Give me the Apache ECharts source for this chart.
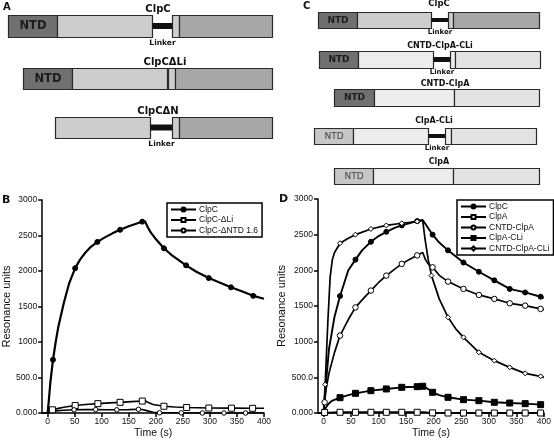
<!DOCTYPE html>
<html><head><meta charset="utf-8">
<script src="https://cdn.jsdelivr.net/npm/echarts@6/dist/echarts.min.js"></script>
<style>html,body{margin:0;padding:0;background:#fff}#c{width:554px;height:441px}</style>
</head><body><div id="c"></div>
<script>
// ---------- Domain maps (arbitrary length units, 0-1000) ----------
const A_NAMES = ['ClpC', 'ClpCΔLi', 'ClpCΔN'];
const A_ClpC   = [[0,186,'NTD_C'],[186,545,'D1_C'],[545,621,'LI'],[621,648,'M_C'],[648,1000,'D2_C']];
const A_ClpCdLi= [[57,242,'NTD_C'],[242,602,'D1_C'],[605,633,'M_C'],[633,1000,'D2_C']];
const A_ClpCdN = [[178,538,'D1_C'],[538,621,'LI'],[621,648,'M_C'],[648,1000,'D2_C']];

const C_NAMES = ['ClpC', 'CNTD-ClpA-CLi', 'CNTD-ClpA', 'ClpA-CLi', 'ClpA'];
const C_ClpC      = [[18,190,'NTD_C'],[190,518,'D1_C'],[518,593,'LI'],[593,615,'M_C'],[615,996,'D2_C']];
const C_CNTDClpACLi=[[22,195,'NTD_C'],[195,527,'D1_A'],[527,602,'LI'],[602,624,'M_A'],[624,1000,'D2_A']];
const C_CNTDClpA  = [[88,265,'NTD_C'],[265,619,'D1_A'],[619,996,'D2_A']];
const C_ClpACLi   = [[0,173,'NTD_A'],[173,504,'D1_A'],[504,580,'LI'],[580,606,'M_A'],[606,982,'D2_A']];
const C_ClpA      = [[88,261,'NTD_A'],[261,615,'D1_A'],[615,996,'D2_A']];

// ---------- SPR sensorgrams ----------
const X_TICKS = [0,50,100,150,200,250,300,350,400];
const Y_TICKS = [0,500,1000,1500,2000,2500,3000];
const Y_TICK_LABELS = ['0.000','500.0','1000','1500','2000','2500','3000'];

// Panel B
const B_ClpC_t = [-10,0,2,5,10,15,20,30,40,51,60,70,80,92,105,120,134,150,165,175,180,185,190,200,215,230,256,275,298,320,339,360,380,400];
const B_ClpC_v = [0,0,150,420,750,1000,1220,1550,1830,2040,2160,2260,2340,2410,2470,2530,2580,2630,2670,2695,2700,2620,2550,2450,2320,2220,2080,1990,1900,1830,1770,1710,1650,1610];
const B_ClpC_m = [10,51,92,134,175,215,256,298,339,380];

const B_dLi_t = [-10,0,3,9,20,30,51,70,93,115,134,155,175,180,185,195,215,235,257,298,340,379,400];
const B_dLi_v = [0,0,20,45,65,80,105,120,132,142,150,160,168,178,150,120,95,85,78,70,68,66,66];
const B_dLi_m = [9,51,93,134,175,215,257,298,340,379];

const B_dNTD_t = [-10,0,5,15,30,49,70,89,110,128,150,168,175,185,195,207,247,286,326,366,400];
const B_dNTD_v = [0,0,15,30,38,45,47,48,46,45,48,52,50,30,10,3,2,0,0,0,0];
const B_dNTD_m = [49,89,128,168,207,247,286,326,366];

// Panel D
const D_ClpC_t = [-10,0,3,10,20,30,45,58,70,86,100,114,130,142,160,170,180,185,198,210,226,254,282,310,338,366,394,400];
const D_ClpC_v = [0,0,300,900,1350,1640,2000,2150,2280,2400,2480,2540,2600,2630,2670,2690,2705,2650,2500,2390,2280,2110,1980,1860,1740,1690,1630,1615];
const D_ClpC_m = [30,58,86,114,142,170,198,226,254,282,310,338,366,394];

const D_ClpA_t = [-10,0,2,30,58,86,114,142,170,180,198,226,254,282,310,338,366,394,400];
const D_ClpA_v = [0,0,8,10,10,10,10,10,10,10,2,0,0,0,0,0,0,0,0];
const D_ClpA_m = [2,30,58,86,114,142,170,198,226,254,282,310,338,366,394];

const D_CNTDClpA_t = [-10,0,2,5,10,20,30,45,58,73,86,100,114,128,142,155,170,180,185,190,198,210,226,240,254,282,310,338,366,394,400];
const D_CNTDClpA_v = [0,0,150,350,560,850,1085,1310,1480,1610,1716,1830,1926,2010,2090,2150,2210,2250,2150,2090,2043,1930,1842,1790,1739,1655,1599,1538,1505,1459,1450];
const D_CNTDClpA_m = [2,30,58,86,114,142,170,198,226,254,282,310,338,366,394];

const D_ClpACLi_t = [-10,0,3,8,15,30,45,58,86,114,142,170,180,185,198,210,226,254,282,310,338,366,394,400];
const D_ClpACLi_v = [0,0,60,120,170,215,250,276,313,337,360,369,375,360,290,250,220,187,173,150,140,131,117,115];
const D_ClpACLi_m = [30,58,86,114,142,170,180,198,226,254,282,310,338,366,394];

const D_CNTDClpACLi_t = [-10,0,3,8,12,16,20,30,45,58,86,114,142,170,180,184,190,196,210,226,240,254,282,310,338,366,394,400];
const D_CNTDClpACLi_v = [0,0,400,1300,1900,2150,2250,2380,2450,2500,2580,2630,2660,2685,2700,2450,2150,1926,1600,1342,1180,1061,851,734,640,556,514,500];
const D_CNTDClpACLi_m = [3,30,58,86,114,142,170,196,226,254,282,310,338,366,394];

// ---------- styling / layout ----------
const FILL = {NTD_C:'#707070', NTD_A:'#c6c6c6', D1_C:'#cdcdcd', M_C:'#cdcdcd', D2_C:'#a7a7a7',
              D1_A:'#ededed', M_A:'#ededed', D2_A:'#e3e3e3'};
const FONT = 'DejaVu Sans';
const PF = 'Liberation Sans';

const diagramRows = [
  {segs:A_ClpC,    left:8,   right:282, top:15,  h:22, ntdSize:11.5},
  {segs:A_ClpCdLi, left:8,   right:282, top:68,  h:21, ntdSize:11.5},
  {segs:A_ClpCdN,  left:8,   right:282, top:117, h:21, ntdSize:11.5},
  {segs:C_ClpC,       left:314, right:14, top:12,  h:16, ntdSize:9},
  {segs:C_CNTDClpACLi,left:314, right:14, top:51,  h:17, ntdSize:9},
  {segs:C_CNTDClpA,   left:314, right:14, top:89,  h:17, ntdSize:9},
  {segs:C_ClpACLi,    left:314, right:14, top:128, h:16, ntdSize:9},
  {segs:C_ClpA,       left:314, right:14, top:168, h:16, ntdSize:9}
];

const grids = [], xAxes = [], yAxes = [], series = [];
diagramRows.forEach((row, gi) => {
  grids.push({left:row.left, right:row.right, top:row.top, height:row.h, containLabel:false});
  xAxes.push({gridIndex:gi, type:'value', min:0, max:1000, show:false});
  yAxes.push({gridIndex:gi, type:'category', data:['r'], show:false});
  const isA = gi < 3;
  series.push({
    type:'custom', xAxisIndex:gi, yAxisIndex:gi, clip:false, silent:true,
    data: row.segs.map(s => [s[0], s[1]]),
    encode:{x:[0,1]},
    renderItem: (params, api) => {
      const kind = row.segs[params.dataIndex][2];
      const p0 = api.coord([api.value(0), 0]);
      const p1 = api.coord([api.value(1), 0]);
      const h = api.size([0, 1])[1];
      const x0 = Math.round(p0[0]) + 0.5, x1 = Math.round(p1[0]) + 0.5;
      const yc = p0[1];
      if (kind === 'LI') {
        const lh = Math.max(4, Math.round(h * 0.28));
        return {type:'group', children:[
          {type:'rect', shape:{x:x0, y:yc - lh/2, width:x1-x0, height:lh}, style:{fill:'#111'}},
          {type:'text', style:{text:'Linker', x:(x0+x1)/2, y:yc + h/2 + (isA?2:1), align:'center', verticalAlign:'top',
            font:'bold ' + (isA?7.5:7) + 'px "' + FONT + '"', fill:'#111'}}
        ]};
      }
      const children = [
        {type:'rect', shape:{x:x0, y:Math.round(yc - h/2) + 0.5, width:x1-x0, height:Math.round(h)},
         style:{fill:FILL[kind], stroke:'#2a2a2a', lineWidth:1.2}}
      ];
      if (kind === 'NTD_C' || kind === 'NTD_A') {
        children.push({type:'text', style:{text:'NTD', x:(x0+x1)/2, y:yc + 0.5, align:'center', verticalAlign:'middle',
          font:(kind==='NTD_C'?'bold ':'') + row.ntdSize + 'px "' + FONT + '"', fill: kind==='NTD_C' ? '#1c1c1c' : '#444'}});
      }
      return {type:'group', children};
    }
  });
});

// chart grids
const GB = grids.length;       // panel B grid index
grids.push({left:39, right:290, top:200, bottom:28});
const GD = grids.length;       // panel D grid index
grids.push({left:318, right:6, top:199, bottom:28});

function xAxisFor(gi) {
  return {gridIndex:gi, type:'value', min:-10, max:400,
    axisLine:{show:true, onZero:false, lineStyle:{color:'#000', width:1.5}},
    axisTick:{show:true, length:4, customValues:X_TICKS, lineStyle:{color:'#000', width:1.5}},
    axisLabel:{customValues:X_TICKS, color:'#111', fontSize:8.5, fontFamily:PF, margin:4},
    splitLine:{show:false},
    name:'Time (s)', nameLocation:'middle', nameGap:15,
    nameTextStyle:{color:'#111', fontSize:10.5, fontFamily:PF}};
}
function yAxisFor(gi) {
  return {gridIndex:gi, type:'value', min:0, max:3000, interval:500,
    axisLine:{show:true, onZero:false, lineStyle:{color:'#000', width:1.5}},
    axisTick:{show:true, length:4, lineStyle:{color:'#000', width:1.5}},
    axisLabel:{color:'#111', fontSize:8.5, fontFamily:PF, margin:5,
      formatter: v => Y_TICK_LABELS[Y_TICKS.indexOf(v)]},
    splitLine:{show:false},
    name:'Resonance units', nameLocation:'middle', nameGap:16,
    nameTextStyle:{color:'#111', fontSize:11, fontFamily:PF}};
}
xAxes.push(xAxisFor(GB)); yAxes.push(yAxisFor(GB));
xAxes.push(xAxisFor(GD)); yAxes.push(yAxisFor(GD));
const XB = xAxes.length - 2, XD = xAxes.length - 1;

const SYM = {
  filledCircle:{symbol:'circle', size:5, fill:'#000'},
  openSquare:{symbol:'rect', size:6, fill:'#fff'},
  openCircle:{symbol:'circle', size:5.5, fill:'#fff'},
  smallOpenCircle:{symbol:'circle', size:4.5, fill:'#fff'},
  filledSquare:{symbol:'rect', size:6, fill:'#000'},
  smallDiamond:{symbol:'diamond', size:5, fill:'#fff'}
};
function lineSeries(name, ts, vs, marks, sym, ax, width) {
  return {
    name, type:'line', xAxisIndex:ax, yAxisIndex:ax, smooth:false,
    showSymbol:true, showAllSymbol:true, symbol:sym.symbol, symbolSize:sym.size,
    color:'#000',
    lineStyle:{color:'#000', width:width},
    itemStyle:{color:sym.fill, borderColor:'#000', borderWidth:1},
    z: 3,
    data: ts.map((t, i) => marks.includes(t) ? [t, vs[i]] : {value:[t, vs[i]], symbol:'none'})
  };
}
series.push(lineSeries('ClpC', B_ClpC_t, B_ClpC_v, B_ClpC_m, SYM.filledCircle, XB, 2.2));
series.push(lineSeries('ClpC-ΔLi', B_dLi_t, B_dLi_v, B_dLi_m, SYM.openSquare, XB, 1.6));
series.push(lineSeries('ClpC-ΔNTD 1.6', B_dNTD_t, B_dNTD_v, B_dNTD_m, SYM.smallOpenCircle, XB, 1.6));

series.push(lineSeries('ClpC', D_ClpC_t, D_ClpC_v, D_ClpC_m, SYM.filledCircle, XD, 1.9));
series.push(lineSeries('ClpA', D_ClpA_t, D_ClpA_v, D_ClpA_m, SYM.openSquare, XD, 1.9));
series.push(lineSeries('CNTD-ClpA', D_CNTDClpA_t, D_CNTDClpA_v, D_CNTDClpA_m, SYM.openCircle, XD, 1.7));
series.push(lineSeries('ClpA-CLi', D_ClpACLi_t, D_ClpACLi_v, D_ClpACLi_m, SYM.filledSquare, XD, 1.9));
series.push(lineSeries('CNTD-ClpA-CLi', D_CNTDClpACLi_t, D_CNTDClpACLi_v, D_CNTDClpACLi_m, SYM.smallDiamond, XD, 1.7));

const legendBase = {orient:'vertical', borderColor:'#000', borderWidth:1.5, padding:[2,4,2,3],
  itemGap:1.5, itemWidth:25, itemHeight:5, selectedMode:false,
  textStyle:{color:'#111', fontSize:8.5, fontFamily:PF, padding:[0,0,0,-2]}};

const labels = [
  {t:'A', x:3, y:7, s:10, a:'left'},
  {t:'C', x:303, y:6, s:10, a:'left'},
  {t:'B', x:2, y:200, s:11, a:'left'},
  {t:'D', x:279, y:199, s:11, a:'left'},
  {t:'ClpC', x:158, y:9, s:10, a:'center'},
  {t:'ClpCΔLi', x:165, y:62, s:10, a:'center'},
  {t:'ClpCΔN', x:158, y:111, s:10, a:'center'},
  {t:'ClpC', x:439, y:4, s:8.5, a:'center'},
  {t:'CNTD-ClpA-CLi', x:440, y:46, s:8, a:'center'},
  {t:'CNTD-ClpA', x:445, y:84, s:8, a:'center'},
  {t:'ClpA-CLi', x:434, y:121, s:8, a:'center'},
  {t:'ClpA', x:439, y:162, s:8, a:'center'}
];

const chart = echarts.init(document.getElementById('c'), null, {renderer:'canvas'});
chart.setOption({
  animation:false, backgroundColor:'#fff',
  grid:grids, xAxis:xAxes, yAxis:yAxes, series,
  legend:[
    Object.assign({}, legendBase, {left:167, top:203, data:['ClpC','ClpC-ΔLi','ClpC-ΔNTD 1.6']}),
    Object.assign({}, legendBase, {left:457, top:200, data:['ClpC','ClpA','CNTD-ClpA','ClpA-CLi','CNTD-ClpA-CLi']})
  ],
  graphic: labels.map(l => ({type:'text', x:l.x, y:l.y, silent:true,
    style:{text:l.t, x:0, y:0, align:l.a, verticalAlign:'middle', font:'bold ' + l.s + 'px "' + FONT + '"', fill:'#111'}}))
});
</script></body></html>
